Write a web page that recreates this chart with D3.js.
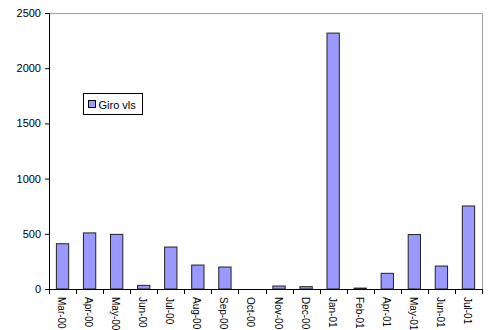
<!DOCTYPE html>
<html>
<head>
<meta charset="utf-8">
<script src="https://cdn.jsdelivr.net/npm/d3@7"></script>
<style>
  html, body { margin: 0; padding: 0; background: #fff; }
  svg { display: block; font-family: Arial, "Liberation Sans", sans-serif; }
</style>
</head>
<body>
<div id="chart"></div>
<script>
// Monthly values for the "Giro vls" series
const months = ["Mar-00", "Apr-00", "May-00", "Jun-00", "Jul-00", "Aug-00", "Sep-00", "Oct-00",
                "Nov-00", "Dec-00", "Jan-01", "Feb-01", "Apr-01", "May-01", "Jun-01", "Jul-01"];
const giroValues = [410, 508, 495, 33, 380, 217, 199, 0, 27, 21, 2318, 8, 142, 493, 208, 752];
const yTicks = [0, 500, 1000, 1500, 2000, 2500];
const seriesName = "Giro vls";

const width = 491, height = 330;
const margin = { top: 13, right: 9, bottom: 41, left: 49 };
const innerW = width - margin.left - margin.right;
const innerH = height - margin.top - margin.bottom;

const svg = d3.select("#chart").append("svg")
  .attr("width", width).attr("height", height);

const g = svg.append("g").attr("transform", `translate(${margin.left},${margin.top})`);

const x = d3.scaleBand().domain(months).range([0, innerW]).paddingInner(0.545).paddingOuter(0.2725);
const y = d3.scaleLinear().domain([0, 2500]).range([innerH, 0]);

// plot frame: grey top and right edges
g.append("path")
  .attr("d", `M0,0.5H${innerW + 0.5}V${innerH}`)
  .attr("fill", "none").attr("stroke", "#a0a0a0").attr("stroke-width", 1);

// bars
g.selectAll("rect.bar").data(giroValues).join("rect")
  .attr("class", "bar")
  .attr("x", (d, i) => x(months[i]))
  .attr("y", d => y(d))
  .attr("width", x.bandwidth())
  .attr("height", d => innerH - y(d))
  .attr("fill", "#9999ff")
  .attr("stroke", "#222222")
  .attr("stroke-width", 1);

// y axis
const yAxis = g.append("g")
  .call(d3.axisLeft(y).tickValues(yTicks).tickSize(4).tickPadding(4).tickFormat(d3.format("d")));
yAxis.select(".domain").attr("stroke", "#000");
yAxis.selectAll(".tick line").attr("stroke", "#000");
yAxis.selectAll("text").attr("font-size", "11px").attr("fill", "#000")
  .attr("font-family", "Arial, 'Liberation Sans', sans-serif");

// x axis: ticks sit on the band boundaries
const xAxisG = g.append("g").attr("transform", `translate(0,${innerH})`);
xAxisG.append("line")
  .attr("x1", 0).attr("x2", innerW + 0.5).attr("y1", 0.5).attr("y2", 0.5)
  .attr("stroke", "#000");
const step = x.step();
const boundaries = d3.range(months.length + 1).map(i => x(months[0]) - x.step() * x.paddingOuter() + i * step);
xAxisG.selectAll("line.tk").data(boundaries).join("line")
  .attr("class", "tk")
  .attr("x1", d => Math.round(d) + 0.5).attr("x2", d => Math.round(d) + 0.5)
  .attr("y1", 0).attr("y2", 5)
  .attr("stroke", "#000");
xAxisG.selectAll("text").data(months).join("text")
  .attr("transform", d => `translate(${x(d) + x.bandwidth() / 2 - 1},8) rotate(90)`)
  .attr("text-anchor", "start")
  .attr("dominant-baseline", "central")
  .attr("font-size", "10px")
  .attr("fill", "#000")
  .text(d => d);

// legend
const legend = svg.append("g").attr("transform", "translate(83.5,93.5)");
legend.append("rect")
  .attr("width", 59).attr("height", 21)
  .attr("fill", "#fff").attr("stroke", "#000").attr("stroke-width", 1);
legend.append("rect")
  .attr("x", 5).attr("y", 7).attr("width", 7).attr("height", 7)
  .attr("fill", "#9999ff").attr("stroke", "#000").attr("stroke-width", 1);
legend.append("text")
  .attr("x", 15).attr("y", 11).attr("dominant-baseline", "central")
  .attr("font-size", "11px").attr("fill", "#000")
  .text(seriesName);
</script>
</body>
</html>
